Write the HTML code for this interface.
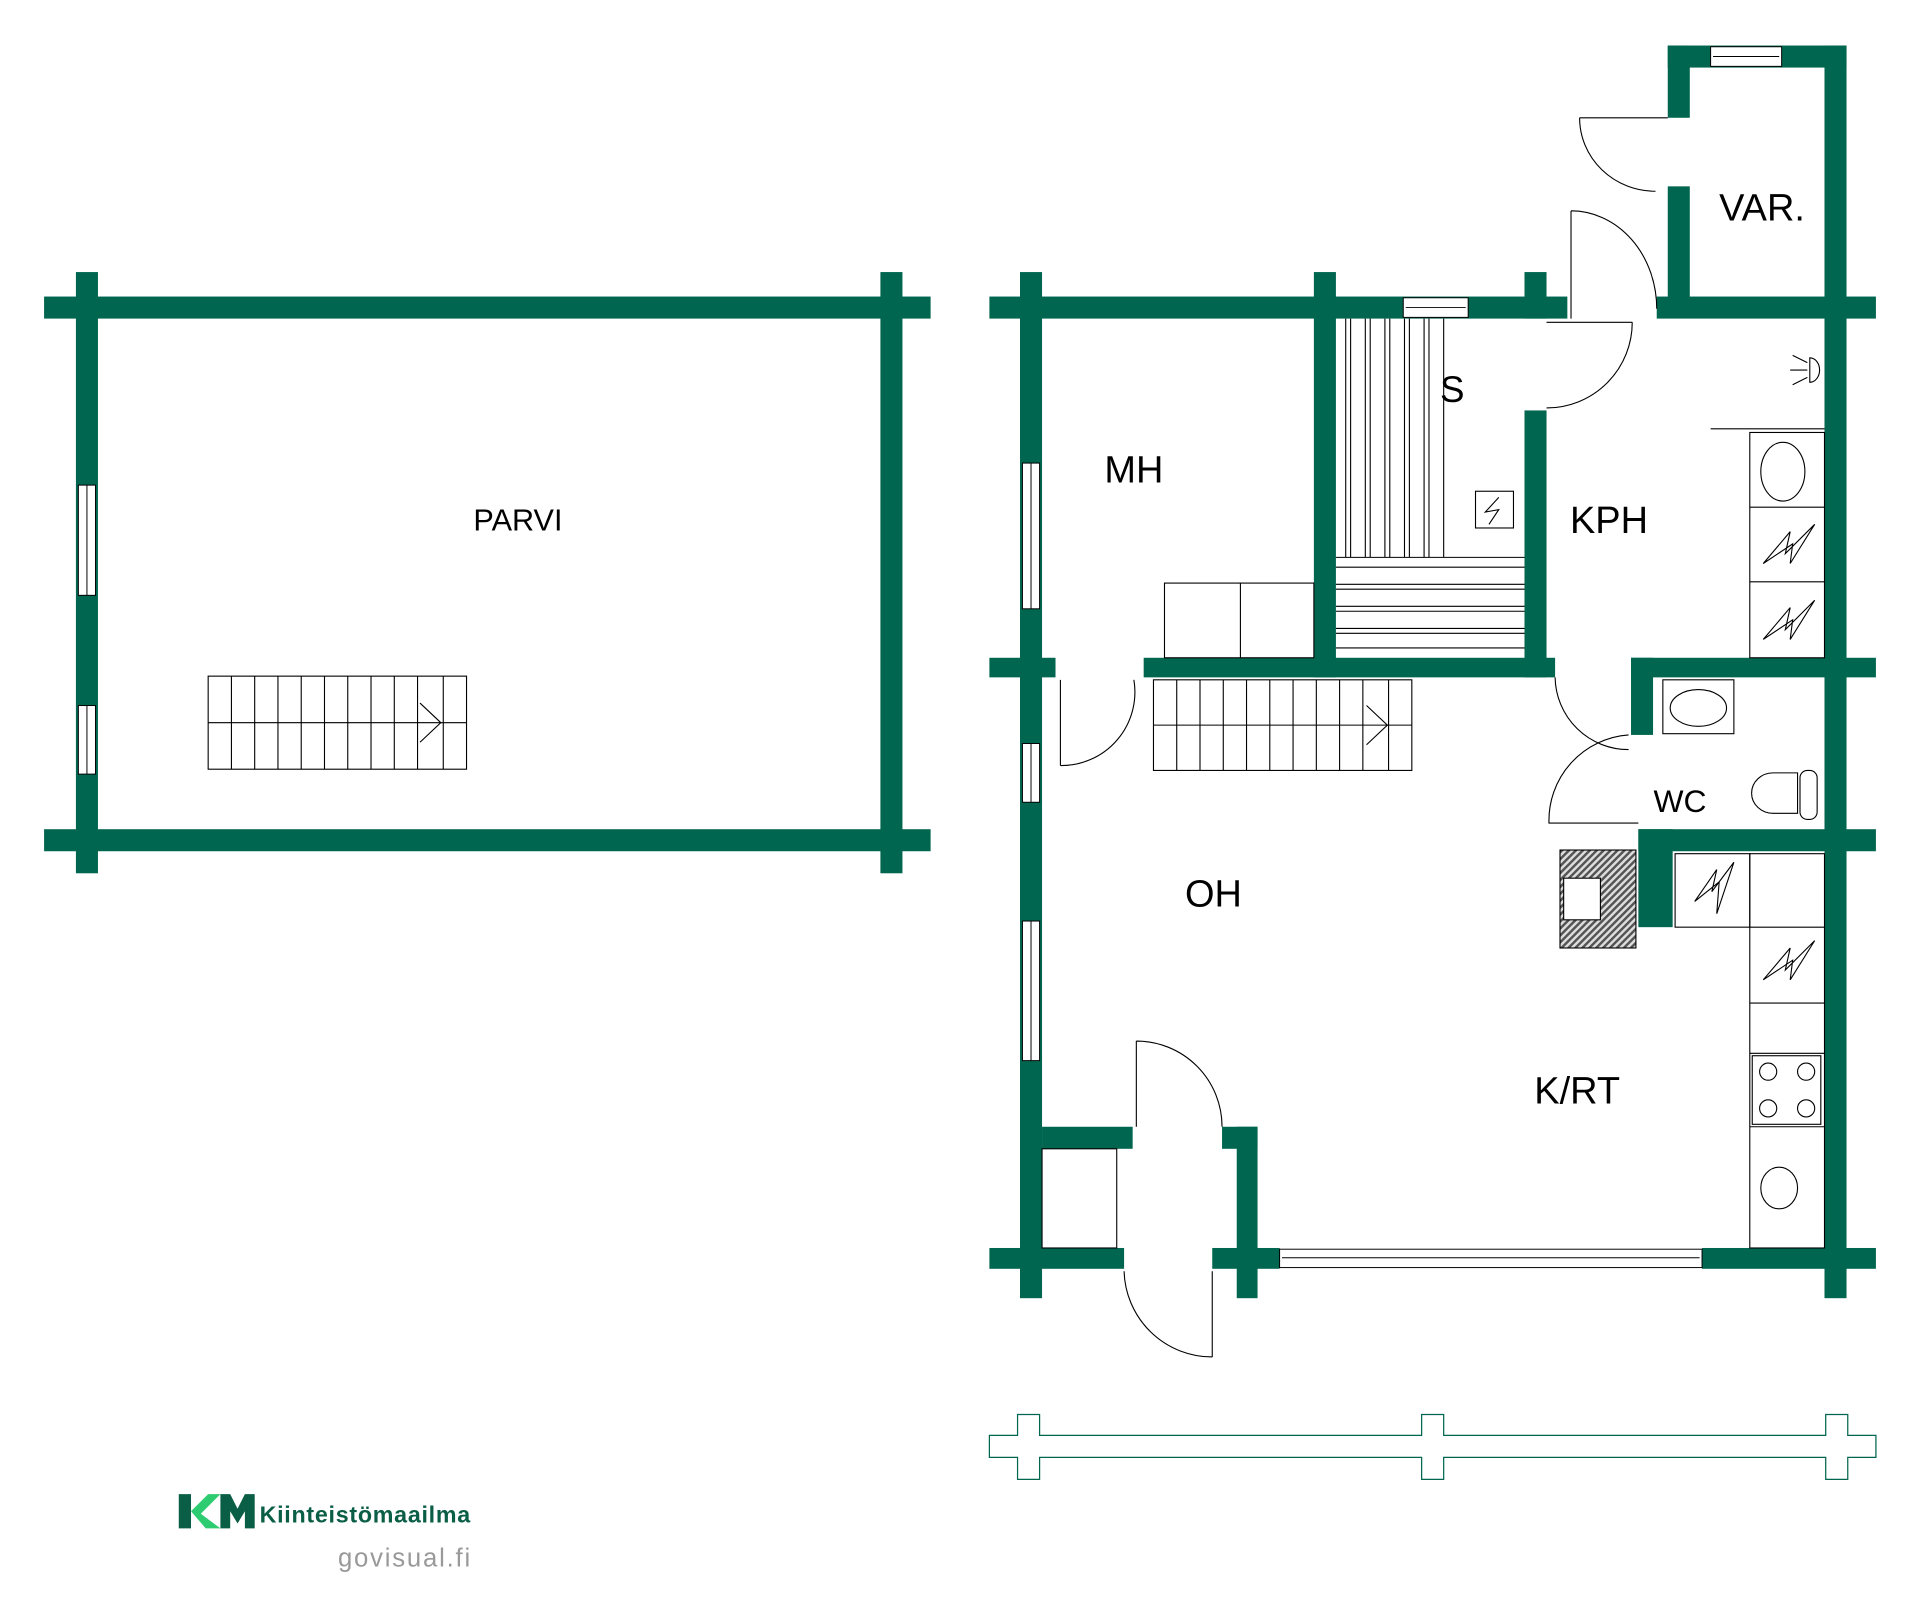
<!DOCTYPE html>
<html><head><meta charset="utf-8"><style>html,body{margin:0;padding:0;background:#fff}svg{display:block}</style></head>
<body>
<svg width="1920" height="1618" viewBox="0 0 1568 1321" xmlns="http://www.w3.org/2000/svg" font-family="Liberation Sans, DejaVu Sans, sans-serif">
<defs>
<pattern id="h" width="4" height="4" patternUnits="userSpaceOnUse" patternTransform="rotate(45)"><rect width="4" height="4" fill="#ddd"/><rect width="2" height="4" fill="#555"/></pattern>
</defs>
<rect width="1568" height="1321" fill="#fff"/>
<g fill="#00664f">
<rect x="36" y="242" width="724" height="18"/>
<rect x="36" y="677" width="724" height="18"/>
<rect x="62" y="222" width="18" height="491"/>
<rect x="719" y="222" width="18" height="491"/>
<rect x="808" y="242" width="472" height="18"/>
<rect x="1353" y="242" width="179" height="18"/>
<rect x="833" y="222" width="18" height="838"/>
<rect x="1073" y="222" width="18" height="331"/>
<rect x="1245" y="222" width="18" height="38"/>
<rect x="1362" y="37" width="18" height="59"/>
<rect x="1362" y="152" width="18" height="100"/>
<rect x="1362" y="37" width="146" height="18"/>
<rect x="1490" y="37" width="18" height="1023"/>
<rect x="1245" y="335" width="18" height="218"/>
<rect x="808" y="537" width="54" height="16"/>
<rect x="934" y="537" width="336" height="16"/>
<rect x="1332" y="537" width="200" height="16"/>
<rect x="1332" y="537" width="18" height="63"/>
<rect x="1338" y="677" width="194" height="18"/>
<rect x="1338" y="677" width="28" height="80"/>
<rect x="808" y="1019" width="110" height="17"/>
<rect x="990" y="1019" width="55" height="17"/>
<rect x="1390" y="1019" width="142" height="17"/>
<rect x="1010" y="920" width="17" height="140"/>
<rect x="851" y="920" width="74" height="18"/>
<rect x="998" y="920" width="29" height="18"/>
</g>
<g fill="#fff" stroke="#000" stroke-width="0.8">
<rect x="64" y="396" width="14" height="90"/><line x1="71" y1="396" x2="71" y2="486"/>
<rect x="64" y="576" width="14" height="56"/><line x1="71" y1="576" x2="71" y2="632"/>
<rect x="835" y="378" width="14" height="119"/><line x1="842" y1="378" x2="842" y2="497"/>
<rect x="835" y="607" width="14" height="48"/><line x1="842" y1="607" x2="842" y2="655"/>
<rect x="835" y="752" width="14" height="114"/><line x1="842" y1="752" x2="842" y2="866"/>
<rect x="1146" y="243" width="53" height="16"/><line x1="1148" y1="251" x2="1197" y2="251"/>
<rect x="1397" y="38" width="58" height="16"/><line x1="1399" y1="46" x2="1453" y2="46"/>
<rect x="1045" y="1020" width="345" height="15"/><line x1="1047" y1="1027" x2="1388" y2="1027"/>
</g>
<g fill="none" stroke="#000" stroke-width="0.9">
<rect x="170" y="552" width="211" height="76"/>
<line x1="170" y1="590" x2="381" y2="590"/>
<path d="M189 552V628M208 552V628M227 552V628M246 552V628M265 552V628M284 552V628M303 552V628M322 552V628M341 552V628M362 552V628"/>
<path d="M343 574L360 590L343 606"/>
<rect x="942" y="555" width="211" height="74"/>
<line x1="942" y1="592" x2="1153" y2="592"/>
<path d="M961 555V629M980 555V629M999 555V629M1018 555V629M1037 555V629M1056 555V629M1075 555V629M1094 555V629M1113 555V629M1134 555V629"/>
<path d="M1116 576L1133 592L1116 608"/>
<path d="M1099 260V455M1103 260V455M1115 260V455M1119 260V455M1131 260V455M1135 260V455M1147 260V455M1151 260V455M1163 260V455M1167 260V455M1179 260V455"/>
<path d="M1091 455H1245M1091 463H1245M1091 477H1245M1091 481H1245M1091 495H1245M1091 499H1245M1091 513H1245M1091 517H1245M1091 529H1245"/>
<rect x="1205" y="401" width="31" height="30"/>
<path d="M1224 406L1213 418L1224 416L1216 428"/>
<rect x="951" y="476" width="122" height="61"/><line x1="1013" y1="476" x2="1013" y2="537"/>
<line x1="1397" y1="350" x2="1490" y2="350"/>
<rect x="1429" y="353" width="61" height="184"/>
<line x1="1429" y1="414" x2="1490" y2="414"/><line x1="1429" y1="475" x2="1490" y2="475"/>
<ellipse cx="1456" cy="385" rx="18" ry="24"/>
<path d="M1440 460L1462 434L1458 452L1482 428L1462 460L1464 444Z"/>
<path d="M1440 522L1462 496L1458 514L1482 490L1462 522L1464 506Z"/>
<path d="M1478 292A8 10 0 0 1 1478 312Z"/>
<path d="M1476 296L1464 290M1476 302L1462 302M1476 308L1464 314"/>
<rect x="1358" y="555" width="58" height="44"/>
<ellipse cx="1387" cy="578" rx="23" ry="15"/>
<path d="M1468 631H1448A17 16 0 0 0 1448 664H1468Z"/>
<rect x="1470" y="629" width="14" height="40" rx="6"/>
<rect x="1274" y="694" width="62" height="80" fill="url(#h)"/>
<rect x="1277" y="717" width="30" height="34" fill="#fff"/>
<rect x="1368" y="697" width="61" height="60"/>
<rect x="1429" y="697" width="61" height="322"/>
<path d="M1429 757H1490M1429 819H1490M1429 860H1490M1429 920H1490"/>
<rect x="1431" y="862" width="56" height="56"/>
<circle cx="1444" cy="875" r="7"/><circle cx="1475" cy="875" r="7"/><circle cx="1444" cy="905" r="7"/><circle cx="1475" cy="905" r="7"/>
<ellipse cx="1453" cy="970" rx="15" ry="17"/>
<path d="M1384 736L1402 710L1398 728L1416 704L1402 746L1404 720Z"/>
<path d="M1440 800L1462 774L1458 792L1482 768L1462 800L1464 784Z"/>
<path d="M1290 96H1362M1290 96A62 60 0 0 0 1352 156"/>
<path d="M1283 172V260M1283 172A70 80 0 0 1 1353 252"/>
<path d="M1263 263H1333M1333 263A70 70 0 0 1 1263 333"/>
<path d="M866 555V625M866 625A60 60 0 0 0 926 555"/>
<path d="M1270 553A60 60 0 0 0 1330 612"/>
<path d="M1330 600A70 70 0 0 0 1265 672H1338"/>
<path d="M928 850V920M928 850A70 70 0 0 1 998 920"/>
<path d="M990 1038V1108M918 1038A72 72 0 0 0 990 1108"/>
<rect x="851" y="938" width="61" height="81"/>
</g>
<g fill="none" stroke="#00664f" stroke-width="1">
<path d="M808 1172H831V1155H849V1172H1161V1155H1179V1172H1491V1155H1509V1172H1532V1190H1509V1208H1491V1190H1179V1208H1161V1190H849V1208H831V1190H808Z"/>
</g>
<g fill="#000" text-anchor="middle">
<text x="423" y="433" font-size="25">PARVI</text>
<text x="926" y="394" font-size="31">MH</text>
<text x="1186" y="328" font-size="30">S</text>
<text x="1314" y="435" font-size="31">KPH</text>
<text x="1439" y="180" font-size="31">VAR.</text>
<text x="1372" y="663" font-size="26">WC</text>
<text x="991" y="740" font-size="31">OH</text>
<text x="1288" y="901" font-size="31">K/RT</text>
</g>
<g>
<path d="M146 1220H156V1248H146Z" fill="#0a5e45"/>
<path d="M156 1234L170 1220H180L164 1236L180 1248H168Z" fill="#2ecc71"/>
<path d="M180 1248V1220H188L194 1232L200 1220H208V1248H200V1234L194 1244L188 1234V1248Z" fill="#0a5e45"/>
<text x="212" y="1243" font-size="19" fill="#0a5e45" font-weight="bold" textLength="172">Kiinteistömaailma</text>
<text x="276" y="1279" font-size="21" fill="#999" textLength="108">govisual.fi</text>
</g>
</svg>
</body></html>
